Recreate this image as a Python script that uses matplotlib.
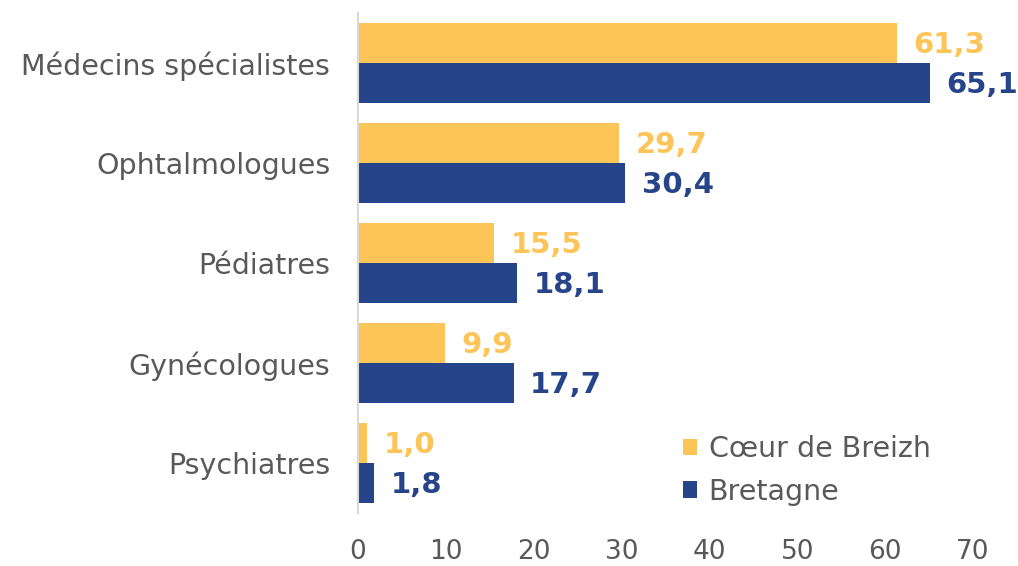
import numpy as np
import matplotlib.pyplot as plt

plt.rcParams["font.family"] = ["DejaVu Sans"]

# Densité de médecins pour 100 000 habitants
categories = ["Médecins spécialistes", "Ophtalmologues", "Pédiatres", "Gynécologues", "Psychiatres"]
coeur_breizh = [61.3, 29.7, 15.5, 9.9, 1.0]
bretagne = [65.1, 30.4, 18.1, 17.7, 1.8]

jaune = "#FDC457"
bleu = "#26448A"
gris = "#595959"

fig = plt.figure(figsize=(10.18, 5.66), dpi=100)
ax = fig.add_axes([0.3517, 0.0936, 0.6041, 0.8834])

y = np.arange(len(categories))
h = 0.4
ax.barh(y - h / 2, coeur_breizh, height=h, color=jaune, label="Cœur de Breizh")
ax.barh(y + h / 2, bretagne, height=h, color=bleu, label="Bretagne")

def fmt(v):
    return f"{v:.1f}".replace(".", ",")

for yi, v in zip(y, coeur_breizh):
    ax.text(v + 1.9, yi - h / 2 + 0.02, fmt(v), color=jaune, fontsize=21, fontweight="bold",
            va="center", ha="left")
for yi, v in zip(y, bretagne):
    ax.text(v + 1.9, yi + h / 2 + 0.02, fmt(v), color=bleu, fontsize=21, fontweight="bold",
            va="center", ha="left")

ax.set_xlim(0, 70)
ax.set_ylim(len(categories) - 0.5, -0.5)
ax.set_yticks(y)
ax.set_yticklabels(categories)
ax.set_xticks(range(0, 71, 10))
ax.tick_params(axis="y", length=0, pad=20, labelsize=20.5, labelcolor=gris)
ax.tick_params(axis="x", length=0, pad=19, labelsize=19, labelcolor=gris)

for s in ["top", "right", "bottom"]:
    ax.spines[s].set_visible(False)
ax.spines["left"].set_color("#D9D9D9")
ax.spines["left"].set_linewidth(1.5)

leg = ax.legend(loc="lower left", bbox_to_anchor=(0.51, -0.008), frameon=False,
                fontsize=20.5, handlelength=0.5, handleheight=0.5, handletextpad=0.4,
                labelspacing=0.5, borderaxespad=0)
for t in leg.get_texts():
    t.set_color(gris)

fig.savefig("out.png", dpi=100)
